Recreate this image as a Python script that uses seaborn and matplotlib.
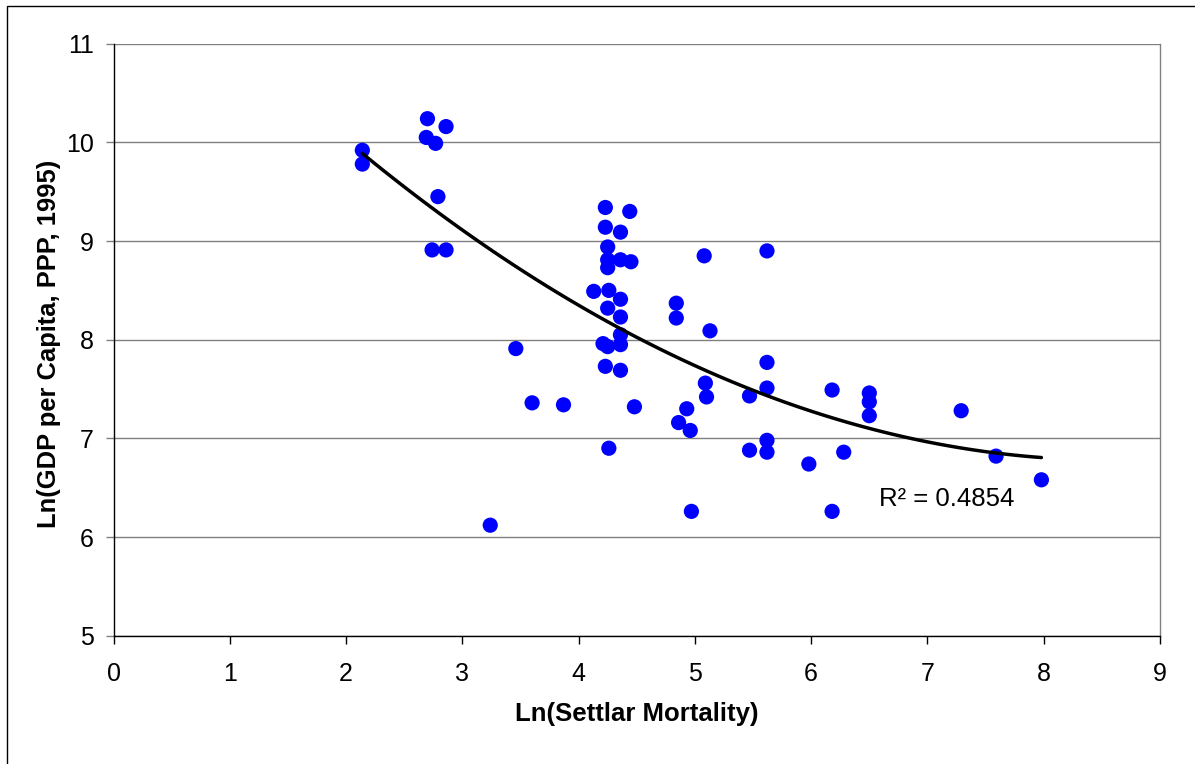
import matplotlib
matplotlib.use("Agg")
import matplotlib.pyplot as plt
from matplotlib.patches import Rectangle
import numpy as np
import pandas as pd
import seaborn as sns

# ---- data ----
ln_mortality = [
    2.14, 2.14, 2.70, 2.69, 2.86, 2.77, 2.79, 2.74, 2.86,
    4.23, 4.44, 4.23, 4.36, 4.25, 4.25, 4.36, 4.45, 4.25,
    4.13, 4.26, 4.36, 4.25, 4.36, 4.36, 4.21, 4.25, 4.36, 4.23, 4.36,
    3.46, 3.60, 3.87, 4.48, 4.84, 4.84, 4.86, 4.93, 4.96, 4.26, 4.97, 3.24,
    5.09, 5.10,
    5.08, 5.62, 5.13, 5.62, 5.47, 5.62, 6.18, 6.50, 6.50, 6.50, 7.29,
    5.62, 5.47, 5.62, 5.98, 6.28, 6.18, 7.59, 7.98,
]
ln_gdp = [
    9.92, 9.78, 10.24, 10.05, 10.16, 9.99, 9.45, 8.91, 8.91,
    9.34, 9.30, 9.14, 9.09, 8.94, 8.81, 8.81, 8.79, 8.73,
    8.49, 8.50, 8.41, 8.32, 8.23, 8.05, 7.96, 7.93, 7.95, 7.73, 7.69,
    7.91, 7.36, 7.34, 7.32, 8.37, 8.22, 7.16, 7.30, 7.08, 6.90, 6.26, 6.12,
    7.56, 7.42,
    8.85, 8.90, 8.09, 7.77, 7.43, 7.51, 7.49, 7.46, 7.37, 7.23, 7.28,
    6.98, 6.88, 6.86, 6.74, 6.86, 6.26, 6.82, 6.58,
]
x_ticks = [0, 1, 2, 3, 4, 5, 6, 7, 8, 9]
y_ticks = [5, 6, 7, 8, 9, 10, 11]
x_label = "Ln(Settlar Mortality)"
y_label = "Ln(GDP per Capita, PPP, 1995)"
r2_text = "R\u00b2 = 0.4854"

df = pd.DataFrame({"x": ln_mortality, "y": ln_gdp})

sns.set_theme(style="white")
plt.rcParams["font.family"] = ["Liberation Sans", "DejaVu Sans"]

W, H = 1195, 764
fig = plt.figure(figsize=(W / 100, H / 100), dpi=100)
ax_l, ax_r, ax_t, ax_b = 113.5, 1160, 43.7, 635.7
ax = fig.add_axes([ax_l / W, 1 - ax_b / H, (ax_r - ax_l) / W, (ax_b - ax_t) / H])

ax.set_xlim(0, 9)
ax.set_ylim(5, 11)
ax.set_yticks(y_ticks)
ax.set_xticks(x_ticks)
ax.yaxis.grid(True, color="#808080", linewidth=1.0)
ax.xaxis.grid(False)
ax.set_axisbelow(True)

sns.scatterplot(data=df, x="x", y="y", ax=ax, color="#0000FF", s=120,
                edgecolor="none", linewidth=0, zorder=3)
sns.regplot(data=df, x="x", y="y", ax=ax, order=2, ci=None, scatter=False,
            truncate=True, line_kws={"color": "black", "linewidth": 2.5, "zorder": 4})

ax.text(6.585, 6.316, r2_text, fontsize=18.5, ha="left", va="baseline", color="black")

for side in ["left", "bottom"]:
    ax.spines[side].set_color("black")
    ax.spines[side].set_linewidth(1.0)
ax.spines["right"].set_color("#808080")
ax.spines["right"].set_linewidth(1.0)
ax.spines["top"].set_visible(False)

ax.tick_params(axis="x", direction="out", length=6, width=1, color="black",
               pad=13, labelsize=18, labelcolor="black", bottom=True)
ax.tick_params(axis="y", direction="out", length=6, width=1, color="#808080",
               pad=8, labelsize=18, labelcolor="black", left=True)

ax.set_xlabel(x_label, fontsize=18.5, fontweight="bold", color="black")
ax.set_ylabel(y_label, fontsize=18.4, fontweight="bold", color="black")
ax.xaxis.set_label_coords(0.5, -0.112)
ax.yaxis.set_label_coords(-0.0505, 0.493)

fig.patches.append(Rectangle((7 / W, -0.1), 1.2, 1 - 6 / H + 0.1,
                             transform=fig.transFigure, fill=False,
                             edgecolor="black", linewidth=1.0, clip_on=False))

fig.savefig("out.png", dpi=100, facecolor="white")
